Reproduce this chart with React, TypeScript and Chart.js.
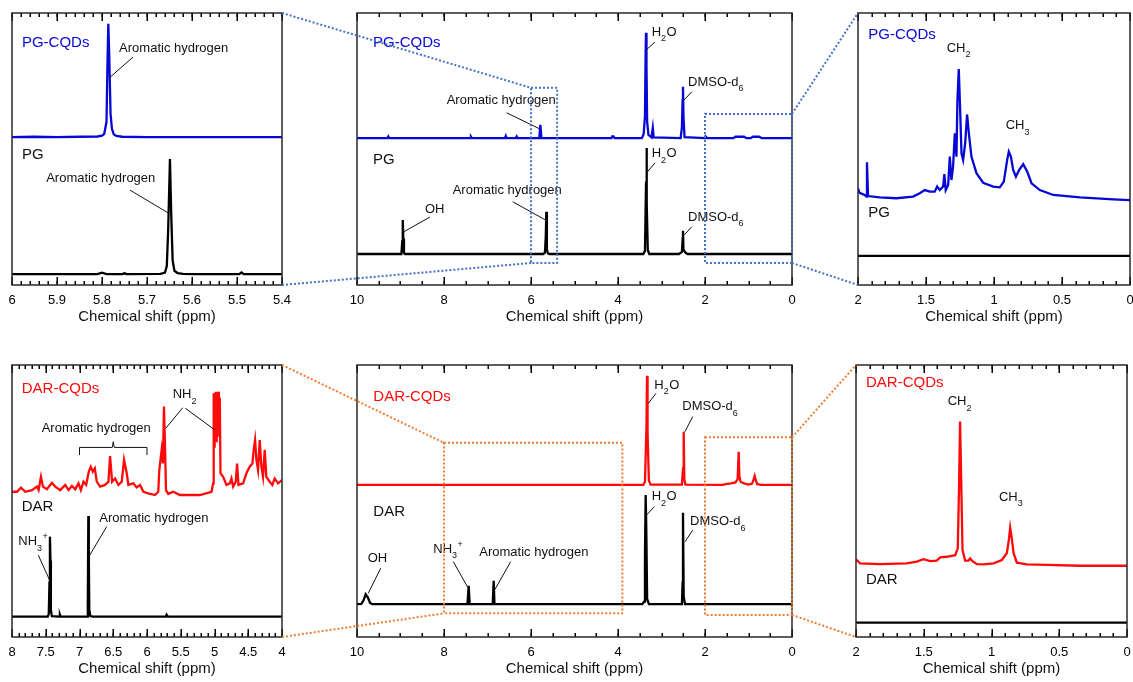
import React, { useEffect, useRef } from 'react';
import { Chart, registerables } from 'chart.js';

Chart.register(...registerables);

type Pt = [number, number];

// ---------------- spectra (ppm, relative intensity 0-100) ----------------
const pgCqdsAromaticZoom: Pt[] = [
  [6.0, 54.4], [5.95, 54.5], [5.9, 54.4], [5.85, 54.5], [5.81, 54.6], [5.8, 54.9], [5.795, 55.6], [5.79, 60], [5.788, 80],
  [5.786, 96], [5.784, 85], [5.781, 63], [5.778, 57.5], [5.774, 55.4], [5.768, 54.8], [5.755, 54.5], [5.7, 54.4],
  [5.6, 54.4], [5.5, 54.4], [5.4, 54.4],
];
const pgAromaticZoom: Pt[] = [
  [6.0, 4.0], [5.9, 4.0], [5.81, 4.0], [5.8, 4.5], [5.79, 4.0], [5.755, 4.0], [5.75, 4.3], [5.745, 4.0], [5.67, 4.1],
  [5.66, 4.6], [5.656, 7], [5.653, 20], [5.649, 46.3], [5.646, 25], [5.643, 9], [5.639, 5.2], [5.632, 4.4],
  [5.62, 4.1], [5.6, 4.0], [5.495, 4.0], [5.49, 4.6], [5.485, 4.0], [5.4, 4.0],
];
const pgCqdsFull: Pt[] = [
  [10, 54.0], [9.3, 54.0], [9.28, 54.6], [9.26, 54.0], [7.4, 54.0], [7.38, 54.5], [7.36, 54.0], [6.6, 54.0],
  [6.58, 54.8], [6.56, 54.0], [6.35, 54.0], [6.33, 54.6], [6.31, 54.0], [5.81, 54.0], [5.785, 58.9], [5.76, 54.0],
  [4.15, 54.0], [4.13, 54.7], [4.1, 54.6], [4.08, 54.0], [3.45, 54.0], [3.41, 55.5], [3.38, 62], [3.365, 85],
  [3.356, 92.7], [3.345, 80], [3.33, 60], [3.3, 55.2], [3.23, 54.3], [3.2, 57.8], [3.18, 54.3], [2.56, 54.0],
  [2.53, 58], [2.515, 68], [2.506, 72.9], [2.495, 62], [2.47, 54.4], [2.0, 54.0], [1.98, 54.5], [1.95, 54.0],
  [1.35, 54.0], [1.3, 54.5], [1.1, 54.5], [1.05, 54.0], [0.95, 54.0], [0.9, 54.5], [0.75, 54.5], [0.7, 54.0], [0, 54.0],
];
const pgFull: Pt[] = [
  [10, 11.4], [8.98, 11.4], [8.96, 16], [8.948, 23.9], [8.935, 17], [8.92, 11.8], [8.9, 11.4], [5.72, 11.4],
  [5.68, 11.9], [5.66, 18], [5.648, 26.9], [5.635, 13], [5.61, 11.6], [5.58, 11.4], [3.42, 11.4], [3.38, 12.5],
  [3.355, 38], [3.345, 50.4], [3.335, 30], [3.315, 12.8], [3.28, 11.4], [2.6, 11.4], [2.53, 12.2], [2.513, 17],
  [2.506, 19.9], [2.495, 13], [2.45, 11.9], [2.4, 11.4], [0, 11.4],
];
const pgCqdsAliphaticZoom: Pt[] = [
  [2.0, 35.5], [1.988, 33.9], [1.951, 33.1], [1.939, 32.5], [1.934, 45.1], [1.926, 32.7], [1.84, 32.2], [1.718, 31.9],
  [1.595, 32.5], [1.546, 33.7], [1.509, 34.9], [1.472, 34.3], [1.436, 34.3], [1.418, 36.2], [1.399, 34.9],
  [1.374, 36.2], [1.365, 40.8], [1.355, 34.9], [1.337, 36.8], [1.325, 47.2], [1.313, 38.6], [1.301, 43.5],
  [1.288, 55.8], [1.276, 47.2], [1.269, 68.0], [1.259, 79.4], [1.249, 64.3], [1.239, 48.4], [1.227, 46.0],
  [1.212, 52.1], [1.198, 62.7], [1.185, 55.8], [1.166, 47.2], [1.129, 41.1], [1.08, 37.6], [1.006, 36.2],
  [0.957, 35.9], [0.928, 38.0], [0.903, 46.0], [0.891, 49.0], [0.876, 47.2], [0.859, 42.3], [0.839, 39.8],
  [0.815, 42.3], [0.785, 44.4], [0.756, 41.7], [0.724, 37.4], [0.663, 34.9], [0.564, 33.1], [0.368, 32.2],
  [0.123, 31.5], [0, 31.2],
];
const pgAliphaticZoom: Pt[] = [[2.0, 10.7], [1.5, 10.7], [1.0, 10.7], [0.5, 10.7], [0, 10.7]];

const darCqdsAromaticZoom: Pt[] = [
  [8.0, 53.4], [7.926, 53.4], [7.867, 54.9], [7.803, 53.4], [7.704, 54.0], [7.631, 55.3], [7.606, 54.0],
  [7.571, 58.9], [7.542, 55.3], [7.483, 54.3], [7.409, 56.7], [7.36, 55.3], [7.286, 54.0], [7.212, 55.9],
  [7.163, 54.0], [7.113, 55.5], [7.064, 54.3], [7.015, 56.5], [6.98, 54.0], [6.941, 57.1], [6.901, 55.9],
  [6.862, 60.8], [6.833, 62.6], [6.803, 60.8], [6.773, 62.0], [6.744, 57.1], [6.695, 55.3], [6.621, 55.9],
  [6.571, 57.1], [6.547, 66.5], [6.517, 57.1], [6.473, 58.3], [6.424, 55.9], [6.374, 57.1], [6.34, 65.1],
  [6.3, 60.2], [6.276, 55.9], [6.202, 56.5], [6.153, 55.0], [6.103, 55.9], [6.054, 53.4], [5.98, 52.8],
  [5.882, 52.2], [5.833, 53.4], [5.818, 61.4], [5.783, 68.8], [5.764, 63.8], [5.749, 84.7], [5.734, 71.2],
  [5.719, 54.0], [5.685, 52.6], [5.611, 53.4], [5.512, 52.2], [5.217, 52.2], [5.044, 53.4], [5.02, 56.5],
  [5.012, 89.6], [5.005, 70], [4.998, 88], [4.99, 75], [4.982, 90.2], [4.975, 72], [4.967, 89], [4.96, 74],
  [4.952, 90.2], [4.945, 78], [4.937, 90.2], [4.93, 85], [4.922, 88], [4.911, 60.2], [4.872, 58.9], [4.823, 55.9],
  [4.773, 56.5], [4.749, 58.3], [4.724, 55.3], [4.685, 57.1], [4.665, 63.8], [4.645, 55.9], [4.576, 56.5],
  [4.527, 60.2], [4.478, 62.6], [4.438, 63.8], [4.419, 68.8], [4.399, 72.4], [4.379, 65.1], [4.355, 61.4],
  [4.33, 72.4], [4.305, 62.6], [4.281, 58.9], [4.256, 68.8], [4.232, 58.9], [4.182, 57.1], [4.143, 55.9],
  [4.108, 58.3], [4.059, 56.5], [4.0, 57.7],
];
const darAromaticZoom: Pt[] = [
  [8.0, 7.5], [7.47, 7.5], [7.455, 8.5], [7.445, 20], [7.438, 36.9], [7.43, 28], [7.424, 10], [7.41, 7.7],
  [7.3, 7.5], [7.29, 8.2], [7.28, 7.5], [6.885, 7.5], [6.877, 12], [6.869, 44.5], [6.862, 30], [6.855, 10],
  [6.84, 7.7], [6.8, 7.5], [5.72, 7.5], [5.71, 8.2], [5.69, 7.5], [4.0, 7.5],
];
const darCqdsFull: Pt[] = [
  [10, 55.9], [3.42, 55.9], [3.38, 57], [3.345, 78], [3.333, 96.0], [3.32, 75], [3.29, 57.5], [3.25, 56],
  [2.53, 56], [2.505, 62], [2.49, 75.5], [2.475, 58], [2.45, 56], [1.6, 55.9], [1.5, 56.3], [1.4, 56.5],
  [1.3, 56.8], [1.25, 58], [1.226, 68.1], [1.21, 59], [1.18, 57], [1.1, 56.5], [1.0, 56], [0.92, 56.3],
  [0.88, 58], [0.858, 59.2], [0.84, 58], [0.8, 56.2], [0.7, 55.9], [0, 55.9],
];
const darFull: Pt[] = [
  [10, 12.1], [9.9, 12.2], [9.85, 13.5], [9.8, 15.7], [9.75, 14.5], [9.7, 12.5], [9.65, 12.1], [7.46, 12.1],
  [7.433, 18.8], [7.41, 12.2], [6.88, 12.1], [6.858, 20.7], [6.84, 12.2], [3.44, 12.1], [3.4, 13], [3.38, 30],
  [3.364, 52.2], [3.35, 40], [3.33, 14], [3.29, 12.1], [2.53, 12.1], [2.515, 20], [2.506, 45.7], [2.49, 15],
  [2.46, 12.1], [0, 12.1],
];
const darCqdsAliphaticZoom: Pt[] = [
  [2.0, 28.6], [1.97, 27.1], [1.823, 26.8], [1.626, 27.1], [1.552, 27.7], [1.502, 28.6], [1.453, 27.9],
  [1.404, 28.1], [1.379, 29.3], [1.33, 29.5], [1.268, 30.1], [1.249, 32.6], [1.239, 56.5], [1.232, 79.2],
  [1.224, 58.9], [1.214, 32.0], [1.195, 28.1], [1.17, 28.1], [1.158, 28.9], [1.145, 28.1], [1.108, 26.8],
  [1.059, 26.7], [0.985, 27.1], [0.924, 28.3], [0.887, 30.8], [0.872, 35.7], [0.862, 40.2], [0.852, 36.9],
  [0.837, 30.8], [0.813, 27.3], [0.739, 26.7], [0.591, 26.5], [0.345, 26.2], [0, 26.2],
];
const darAliphaticZoom: Pt[] = [[2.0, 5.3], [1.5, 5.3], [1.0, 5.3], [0.5, 5.3], [0, 5.3]];

// ---------------- tick labels ----------------
const ticksPgAromatic = [6, 5.9, 5.8, 5.7, 5.6, 5.5, 5.4];
const ticksFull = [10, 8, 6, 4, 2, 0];
const ticksAliphatic = [2, 1.5, 1, 0.5, 0];
const ticksDarAromatic = [8, 7.5, 7, 6.5, 6, 5.5, 5, 4.5, 4];

// ---------------- zoom windows [ppmFrom, ppmTo, intensityTop, intensityBottom] ----------------
const pgWindowAromatic = [6, 5.4, 72.5, 8.1];
const pgWindowAliphatic = [2, 0, 62.9, 8.1];
const darWindowAromatic = [8, 3.9, 71.4, 8.7];
const darWindowAliphatic = [2, 0, 73.4, 8.1];

// ---------------- styles ----------------
const FONT = "'Liberation Sans', Arial, Helvetica, sans-serif";
const BLUE = '#0707d6';
const RED = '#ff0a0a';
const BLACK = '#000000';
const LINK_BLUE = '#4472c4';
const LINK_ORANGE = '#ed7d31';

type Ann = {
  x: number; y: number; text: string; color?: string; size?: number;
  lines?: number[][];
  bracket?: number[]; // [x1, x2, yBase, yEnd, yTip]
};

type Panel = {
  left: number; top: number; width: number; height: number;
  min: number; max: number; ticks: number[]; minor: number;
  series: { data: Pt[]; color: string }[];
  anns: Ann[];
};

const panels: Panel[] = [
  {
    left: 12, top: 13, width: 270, height: 272, min: 5.4, max: 6, ticks: ticksPgAromatic, minor: 0.02,
    series: [{ data: pgCqdsAromaticZoom, color: BLUE }, { data: pgAromaticZoom, color: BLACK }],
    anns: [
      { x: 5.978, y: 89.0, text: 'PG-CQDs', color: BLUE, size: 15 },
      { x: 5.762, y: 87.1, text: 'Aromatic hydrogen', lines: [[5.731, 83.8, 5.784, 76.1]] },
      { x: 5.978, y: 47.8, text: 'PG', size: 15 },
      { x: 5.924, y: 39.0, text: 'Aromatic hydrogen', lines: [[5.738, 34.9, 5.653, 26.5]] },
    ],
  },
  {
    left: 357, top: 13, width: 435, height: 272, min: 0, max: 10, ticks: ticksFull, minor: 0.5,
    series: [{ data: pgCqdsFull, color: BLUE }, { data: pgFull, color: BLACK }],
    anns: [
      { x: 9.632, y: 89.0, text: 'PG-CQDs', color: BLUE, size: 15 },
      { x: 3.225, y: 93.0, text: 'H_{2}O', lines: [[3.149, 89.3, 3.356, 86.4]] },
      { x: 2.391, y: 74.6, text: 'DMSO-d_{6}', lines: [[2.306, 71.0, 2.506, 67.6]] },
      { x: 7.938, y: 68.0, text: 'Aromatic hydrogen', lines: [[6.559, 63.3, 5.8, 57.4]] },
      { x: 9.632, y: 46.0, text: 'PG', size: 15 },
      { x: 3.225, y: 48.2, text: 'H_{2}O', lines: [[3.149, 44.9, 3.345, 41.2]] },
      { x: 7.8, y: 34.7, text: 'Aromatic hydrogen', lines: [[6.421, 30.6, 5.632, 23.6]] },
      { x: 8.437, y: 27.9, text: 'OH', lines: [[8.322, 25.0, 8.92, 19.6]] },
      { x: 2.391, y: 24.9, text: 'DMSO-d_{6}', lines: [[2.306, 21.4, 2.476, 18.4]] },
    ],
  },
  {
    left: 858, top: 13, width: 272, height: 272, min: 0, max: 2, ticks: ticksAliphatic, minor: 0.1,
    series: [{ data: pgCqdsAliphaticZoom, color: BLUE }, { data: pgAliphaticZoom, color: BLACK }],
    anns: [
      { x: 1.924, y: 91.9, text: 'PG-CQDs', color: BLUE, size: 15 },
      { x: 1.348, y: 87.0, text: 'CH_{2}' },
      { x: 0.914, y: 58.6, text: 'CH_{3}' },
      { x: 1.924, y: 26.6, text: 'PG', size: 15 },
    ],
  },
  {
    left: 12, top: 365, width: 270, height: 272, min: 4, max: 8, ticks: ticksDarAromatic, minor: 0.1,
    series: [{ data: darCqdsAromaticZoom, color: RED }, { data: darAromaticZoom, color: BLACK }],
    anns: [
      { x: 7.856, y: 91.4, text: 'DAR-CQDs', color: RED, size: 15 },
      { x: 5.619, y: 89.0, text: 'NH_{2}', lines: [[5.471, 84.3, 5.723, 76.7], [5.433, 84.1, 4.993, 76.1]] },
      { x: 7.56, y: 76.5, text: 'Aromatic hydrogen', bracket: [7.0, 6.0, 69.7, 66.9, 71.8] },
      { x: 7.856, y: 47.9, text: 'DAR', size: 15 },
      { x: 7.907, y: 35.0, text: 'NH_{3}^{+}', lines: [[7.61, 30.1, 7.445, 21.0]] },
      { x: 6.707, y: 43.6, text: 'Aromatic hydrogen', lines: [[6.597, 40.6, 6.862, 29.5]] },
    ],
  },
  {
    left: 357, top: 365, width: 435, height: 272, min: 0, max: 10, ticks: ticksFull, minor: 0.5,
    series: [{ data: darCqdsFull, color: RED }, { data: darFull, color: BLACK }],
    anns: [
      { x: 9.625, y: 88.3, text: 'DAR-CQDs', color: RED, size: 15 },
      { x: 3.166, y: 92.5, text: 'H_{2}O', lines: [[3.126, 89.6, 3.303, 85.9]] },
      { x: 2.522, y: 84.7, text: 'DMSO-d_{6}', lines: [[2.283, 81.0, 2.46, 75.5]] },
      { x: 9.625, y: 46.1, text: 'DAR', size: 15 },
      { x: 3.225, y: 51.6, text: 'H_{2}O', lines: [[3.166, 47.9, 3.34, 44.9]] },
      { x: 2.345, y: 42.4, text: 'DMSO-d_{6}', lines: [[2.283, 39.3, 2.46, 35.0]] },
      { x: 9.754, y: 28.9, text: 'OH', lines: [[9.455, 25.3, 9.74, 16.1]] },
      { x: 8.246, y: 32.2, text: 'NH_{3}^{+}', lines: [[7.786, 27.7, 7.441, 17.9]] },
      { x: 7.189, y: 31.1, text: 'Aromatic hydrogen', lines: [[6.467, 27.7, 6.828, 17.5]] },
    ],
  },
  {
    left: 856, top: 365, width: 271, height: 272, min: 0, max: 2, ticks: ticksAliphatic, minor: 0.1,
    series: [{ data: darCqdsAliphaticZoom, color: RED }, { data: darAliphaticZoom, color: BLACK }],
    anns: [
      { x: 1.926, y: 93.3, text: 'DAR-CQDs', color: RED, size: 15 },
      { x: 1.323, y: 86.5, text: 'CH_{2}' },
      { x: 0.945, y: 51.4, text: 'CH_{3}' },
      { x: 1.926, y: 21.0, text: 'DAR', size: 15 },
    ],
  },
];

const links = [
  { src: 1, dst: 0, win: pgWindowAromatic, side: 'left', color: LINK_BLUE },
  { src: 1, dst: 2, win: pgWindowAliphatic, side: 'right', color: LINK_BLUE },
  { src: 4, dst: 3, win: darWindowAromatic, side: 'left', color: LINK_ORANGE },
  { src: 4, dst: 5, win: darWindowAliphatic, side: 'right', color: LINK_ORANGE },
];

const PAD_L = 20, PAD_R = 20, PAD_T = 8, AXIS_H = 41;

function parseRich(text: string) {
  const parts: { t: string; s?: 'sub' | 'sup' }[] = [];
  const re = /([_^])\{([^}]*)\}|([^_^]+)/g;
  let m: RegExpExecArray | null;
  while ((m = re.exec(text))) {
    if (m[3]) parts.push({ t: m[3] });
    else parts.push({ t: m[2], s: m[1] === '_' ? 'sub' : 'sup' });
  }
  return parts;
}

function drawRich(ctx: CanvasRenderingContext2D, x: number, y: number, text: string, size: number, color: string) {
  ctx.fillStyle = color;
  ctx.textAlign = 'left';
  ctx.textBaseline = 'middle';
  let cx = x;
  for (const p of parseRich(text)) {
    const fs = p.s ? Math.round(size * 0.7) : size;
    ctx.font = `${fs}px ${FONT}`;
    const dy = p.s === 'sub' ? size * 0.5 : p.s === 'sup' ? -size * 0.38 : 0;
    ctx.fillText(p.t, cx, y + dy);
    cx += ctx.measureText(p.t).width + (p.s ? 0.5 : 0);
  }
}

function makePlugin(panel: Panel) {
  return {
    id: 'nmrFrame',
    afterDatasetsDraw(chart: any) {
      const { ctx, chartArea: a, scales } = chart;
      const xs = scales.x, ys = scales.y;
      ctx.save();
      // annotations
      for (const an of panel.anns) {
        const px = xs.getPixelForValue(an.x), py = ys.getPixelForValue(an.y);
        drawRich(ctx, px, py, an.text, an.size || 13, an.color || '#111');
        ctx.strokeStyle = '#111';
        ctx.lineWidth = 1;
        for (const l of an.lines || []) {
          ctx.beginPath();
          ctx.moveTo(xs.getPixelForValue(l[0]), ys.getPixelForValue(l[1]));
          ctx.lineTo(xs.getPixelForValue(l[2]), ys.getPixelForValue(l[3]));
          ctx.stroke();
        }
        if (an.bracket) {
          const [b1, b2, yb, ye, yt] = an.bracket;
          const x1 = xs.getPixelForValue(b1), x2 = xs.getPixelForValue(b2), xm = (x1 + x2) / 2;
          const pb = ys.getPixelForValue(yb), pe = ys.getPixelForValue(ye), pt = ys.getPixelForValue(yt);
          ctx.beginPath();
          ctx.moveTo(x1, pe); ctx.lineTo(x1, pb); ctx.lineTo(xm - 1, pb); ctx.lineTo(xm, pt);
          ctx.lineTo(xm + 1, pb); ctx.lineTo(x2, pb); ctx.lineTo(x2, pe);
          ctx.stroke();
        }
      }
      // ticks
      ctx.strokeStyle = '#000';
      ctx.lineWidth = 1.5;
      const tick = (v: number, len: number) => {
        const px = Math.round(xs.getPixelForValue(v)) + 0.25;
        ctx.beginPath();
        ctx.moveTo(px, a.bottom); ctx.lineTo(px, a.bottom - len);
        ctx.moveTo(px, a.top); ctx.lineTo(px, a.top + len);
        ctx.stroke();
      };
      const n = Math.round((panel.max - panel.min) / panel.minor);
      for (let i = 0; i <= n; i++) tick(panel.min + i * panel.minor, 4);
      for (const t of xs.ticks) tick(t.value, 8);
      // frame
      ctx.strokeStyle = '#2a2a2a';
      ctx.lineWidth = 1.5;
      ctx.strokeRect(a.left, a.top, a.right - a.left, a.bottom - a.top);
      ctx.restore();
    },
  };
}

export default function App() {
  const canvasRefs = useRef<(HTMLCanvasElement | null)[]>([]);
  const overlayRef = useRef<HTMLCanvasElement | null>(null);

  useEffect(() => {
    const charts: Chart[] = panels.map((p, i) => {
      const cv = canvasRefs.current[i]!;
      return new Chart(cv, {
        type: 'line',
        data: {
          datasets: p.series.map((s) => ({
            data: s.data.map(([x, y]) => ({ x, y })),
            borderColor: s.color,
            borderWidth: 2.3,
            pointRadius: 0,
            tension: 0,
            fill: false,
          })),
        },
        options: {
          animation: false,
          responsive: false,
          maintainAspectRatio: false,
          events: [],
          layout: { padding: { left: PAD_L, right: PAD_R, top: PAD_T, bottom: 0 } },
          plugins: { legend: { display: false }, tooltip: { enabled: false } },
          scales: {
            x: {
              type: 'linear',
              reverse: true,
              min: p.min,
              max: p.max,
              grid: { display: false, drawTicks: false },
              border: { display: false },
              afterBuildTicks: (scale: any) => {
                scale.ticks = p.ticks.map((v) => ({ value: v }));
              },
              afterFit: (scale: any) => {
                scale.height = AXIS_H;
              },
              ticks: {
                autoSkip: false,
                maxRotation: 0,
                padding: 8,
                color: '#000',
                font: { family: FONT, size: 13 },
                callback: (v: any) => String(Number(Number(v).toFixed(2))),
              },
              title: {
                display: true,
                text: 'Chemical shift (ppm)',
                color: '#111',
                font: { family: FONT, size: 15 },
                padding: { top: 0, bottom: 0 },
              },
            },
            y: { display: false, min: 0, max: 100 },
          },
        } as any,
        plugins: [makePlugin(p)],
      });
    });

    // zoom windows and connectors
    const ov = overlayRef.current!;
    const ctx = ov.getContext('2d')!;
    ctx.clearRect(0, 0, ov.width, ov.height);
    for (const lk of links) {
      const sc = charts[lk.src], dc = charts[lk.dst];
      const sp = panels[lk.src], dp = panels[lk.dst];
      const sox = sp.left - PAD_L, soy = sp.top - PAD_T;
      const dox = dp.left - PAD_L, doy = dp.top - PAD_T;
      const xa = sc.scales.x.getPixelForValue(lk.win[0]) + sox;
      const xb = sc.scales.x.getPixelForValue(lk.win[1]) + sox;
      const yt = sc.scales.y.getPixelForValue(lk.win[2]) + soy;
      const yb = sc.scales.y.getPixelForValue(lk.win[3]) + soy;
      const bl = Math.min(xa, xb), br = Math.max(xa, xb);
      const da = dc.chartArea;
      ctx.save();
      ctx.strokeStyle = lk.color;
      ctx.lineWidth = 2;
      ctx.setLineDash([2, 2]);
      ctx.strokeRect(bl, yt, br - bl, yb - yt);
      ctx.beginPath();
      if (lk.side === 'left') {
        ctx.moveTo(da.right + dox, da.top + doy); ctx.lineTo(bl, yt);
        ctx.moveTo(da.right + dox, da.bottom + doy); ctx.lineTo(bl, yb);
      } else {
        ctx.moveTo(br, yt); ctx.lineTo(da.left + dox, da.top + doy);
        ctx.moveTo(br, yb); ctx.lineTo(da.left + dox, da.bottom + doy);
      }
      ctx.stroke();
      ctx.restore();
    }

    return () => {
      charts.forEach((c) => c.destroy());
    };
  }, []);

  return (
    <div style={{ position: 'absolute', left: 0, top: 0, width: 1133, height: 682, overflow: 'hidden', background: '#fff' }}>
      {panels.map((p, i) => {
        const w = p.width + PAD_L + PAD_R;
        const h = p.height + PAD_T + AXIS_H;
        return (
          <canvas
            key={i}
            ref={(el) => { canvasRefs.current[i] = el; }}
            width={w}
            height={h}
            style={{ position: 'absolute', left: p.left - PAD_L, top: p.top - PAD_T, width: w, height: h }}
          />
        );
      })}
      <canvas
        ref={overlayRef}
        width={1133}
        height={682}
        style={{ position: 'absolute', left: 0, top: 0, width: 1133, height: 682, pointerEvents: 'none' }}
      />
    </div>
  );
}
